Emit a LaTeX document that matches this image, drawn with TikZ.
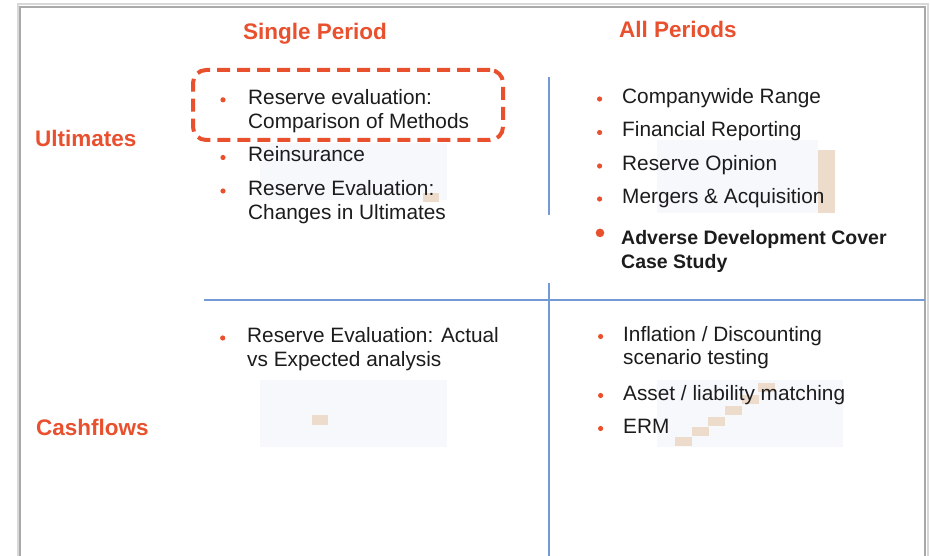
\documentclass[tikz,border=0pt]{standalone}
\usepackage{fontspec}
\setmainfont{Liberation Sans}
\usetikzlibrary{calc}
\definecolor{accent}{HTML}{E8502E}
\definecolor{ink}{HTML}{1C1C1C}
\definecolor{rule}{HTML}{7399D6}
\definecolor{framegray}{HTML}{A9A9A9}
\definecolor{tanpatch}{HTML}{EDDCCC}
\definecolor{haze}{HTML}{F6F8FC}
\begin{document}
\begin{tikzpicture}[x=1pt,y=-1pt,
  head/.style={text=accent, font=\bfseries\fontsize{22.5}{26}\selectfont, inner sep=0, anchor=base west},
  item/.style={text=ink, font=\fontsize{20.8}{24}\selectfont, inner sep=0, anchor=base west, align=left},
  itembold/.style={item, font=\bfseries\fontsize{19.5}{24}\selectfont},
  gridline/.style={draw=rule, line width=1.3},
  hilite/.style={draw=accent, line width=4, dash pattern=on 13pt off 7pt,
    rounded corners=13pt, minimum width=310pt, minimum height=70pt, inner sep=0},
  dot/.style={fill=accent},
  patch/.style={fill=tanpatch},
  faint/.style={fill=haze}]

\useasboundingbox (0,0) rectangle (930,556);
\fill[white] (0,0) rectangle (930,556);

% faint table thumbnails behind the lists
\fill[faint] (260,143) rectangle (447,200);
\fill[patch] (423,193) rectangle (439,202);
\fill[faint] (657,140) rectangle (818,213);
\fill[patch] (818,150) rectangle (835,213);
\fill[faint] (260,380) rectangle (447,447);
\fill[patch] (312,415) rectangle (328,425);
\fill[faint] (657,380) rectangle (843,447);
\foreach \x/\y in {675/437,692/427,708/417,725/406,742/395,758/383}
  \fill[patch] (\x,\y) rectangle ++(17,8.5);

% slide frame
\draw[framegray!45, line width=2] (17.5,556) -- (17.5,4.5) -- (927.5,4.5) -- (927.5,556);
\draw[framegray, line width=2.5] (20,556) -- (20,7) -- (925,7) -- (925,556);

% quadrant rules
\coordinate (vtop) at (549,77);
\coordinate (vgapa) at (549,215);
\coordinate (vgapb) at (549,283);
\coordinate (vbot) at (549,556);
\coordinate (hleft) at (204,300);
\coordinate (hright) at (925,300);
\draw[gridline] (vtop) -- (vgapa);
\draw[gridline] (vgapb) -- (vbot);
\draw[gridline] (hleft) -- (hright);

% column and row headings
\node[head] (hsingle) at (243,40) {Single Period};
\node[head] (hall) at (619,38) {All Periods};
\node[head] (rult) at (35,147) {Ultimates};
\node[head] (rcash) at (36,435) {Cashflows};

% highlighted item
\node[hilite] (focus) at (348,105) {};

% ultimates, single period (two-line items are placed by their last baseline)
\node[item] (ul1) at (248,128.3) {Reserve evaluation:\\Comparison of Methods};
\node[item] (ul2) at (248,162) {Reinsurance};
\node[item] (ul3) at (248,219.5) {Reserve Evaluation:\\Changes in Ultimates};

% ultimates, all periods
\node[item] (ur1) at (622,103.5) {Companywide Range};
\node[item] (ur2) at (622,137) {Financial Reporting};
\node[item] (ur3) at (622,170.5) {Reserve Opinion};
\node[item] (ur4) at (622,203.5) {Mergers \& Acquisition};
\node[itembold] (ur5) at (621,268.5) {Adverse Development Cover\\Case Study};

% cashflows
\node[item] (ll1) at (247,366.5) {Reserve Evaluation: Actual\\vs Expected analysis};
\node[item] (lr1) at (623,365) {Inflation / Discounting\\scenario testing};
\node[item] (lr2) at (623,400) {Asset / liability matching};
\node[item] (lr3) at (623,433) {ERM};

% bullets
\foreach \n/\dx/\dy in {ul1/25/28.5,ul2/25/4.5,ul3/25/28.5,ll1/24.3/28.5,
    ur1/22.4/4.5,ur2/22.4/4.5,ur3/22.4/4.5,ur4/22.4/4.5,
    lr1/22.4/28.5,lr2/22.4/4.5,lr3/22.4/4.5}
  \fill[dot] ($(\n.base west)+(-\dx,-\dy)$) circle (2.6);
\fill[dot] ($(ur5.base west)+(-21,-35.6)$) circle (4.3);
\end{tikzpicture}
\end{document}
